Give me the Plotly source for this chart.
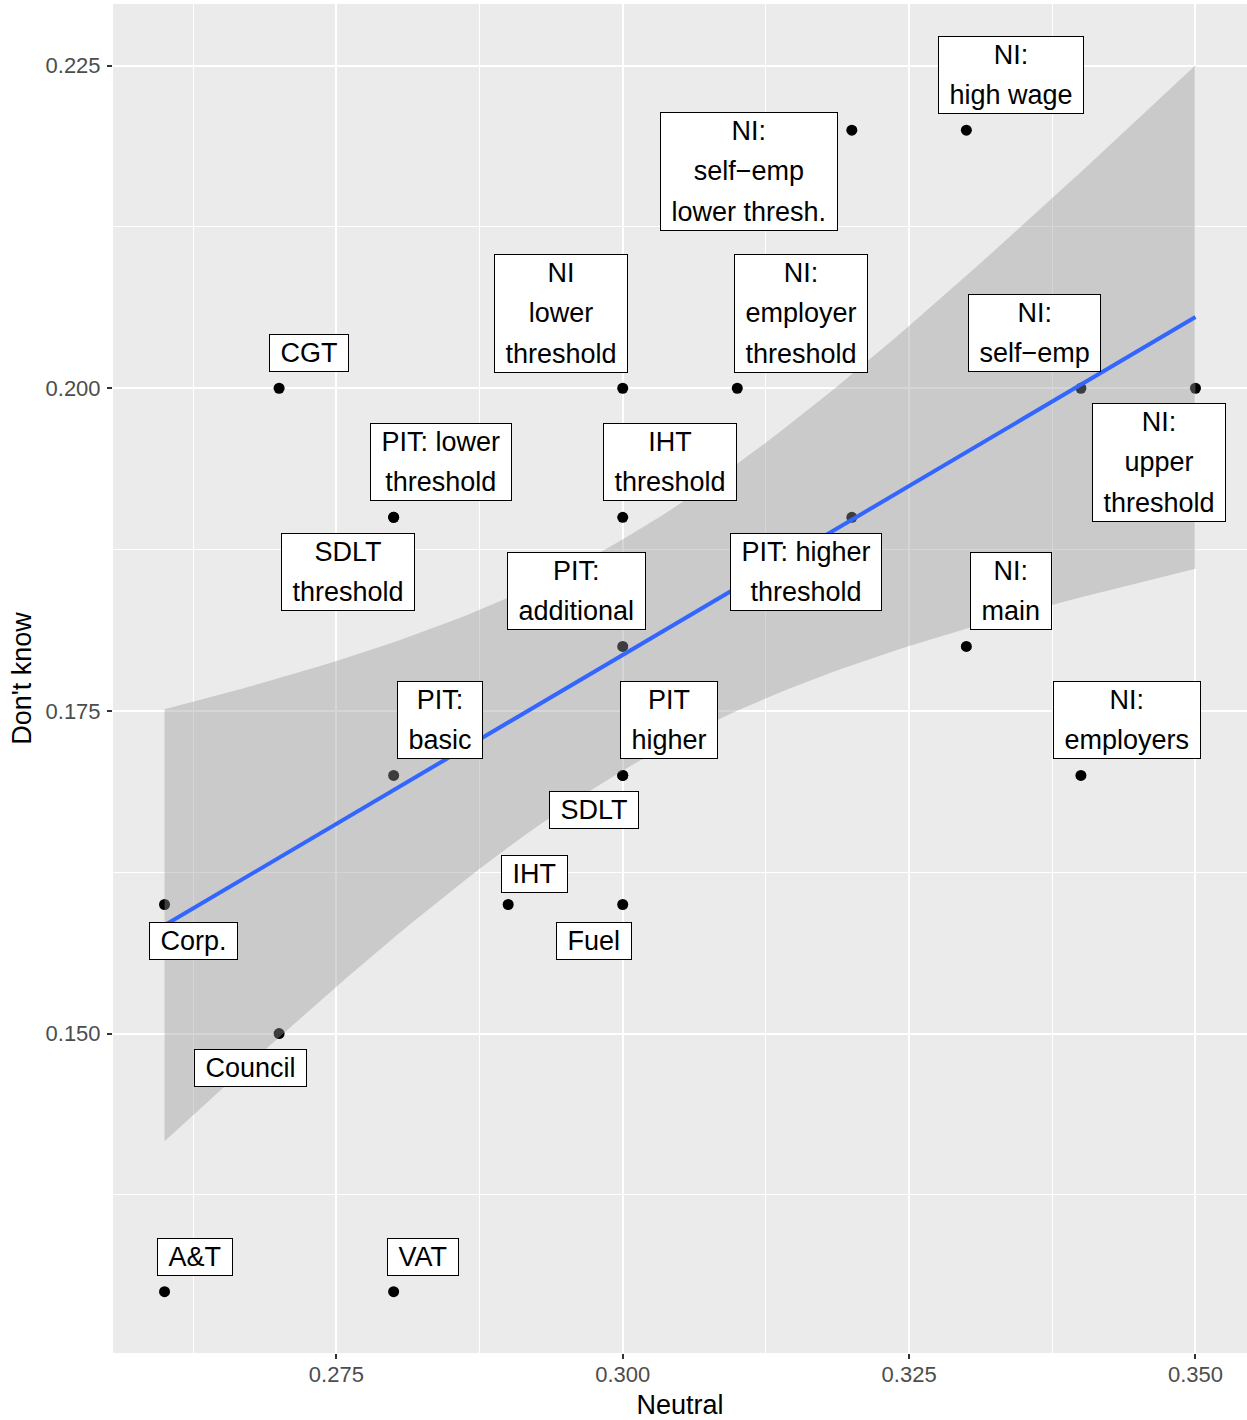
import numpy as np
import plotly.graph_objects as go

# Tax items: share answering "Neutral" vs share answering "Don't know"
labels = [
    "A&T", "VAT", "Corp.", "Council", "CGT",
    "PIT: lower\nthreshold", "SDLT\nthreshold", "PIT:\nbasic", "IHT", "Fuel",
    "PIT\nhigher", "SDLT", "PIT:\nadditional", "IHT\nthreshold", "NI\nlower\nthreshold",
    "NI:\nemployer\nthreshold", "NI:\nself\u2212emp\nlower thresh.", "PIT: higher\nthreshold",
    "NI:\nhigh wage", "NI:\nmain", "NI:\nself\u2212emp", "NI:\nupper\nthreshold", "NI:\nemployers",
]
neutral = [
    0.26, 0.28, 0.26, 0.27, 0.27,
    0.28, 0.28, 0.28, 0.29, 0.30,
    0.30, 0.30, 0.30, 0.30, 0.30,
    0.31, 0.32, 0.32,
    0.33, 0.33, 0.34, 0.35, 0.34,
]
dont_know = [
    0.13, 0.13, 0.16, 0.15, 0.20,
    0.19, 0.19, 0.17, 0.16, 0.16,
    0.17, 0.17, 0.18, 0.19, 0.20,
    0.20, 0.22, 0.19,
    0.22, 0.18, 0.20, 0.20, 0.17,
]
x_ticks = [0.275, 0.300, 0.325, 0.350]
x_tick_text = ["0.275", "0.300", "0.325", "0.350"]
y_ticks = [0.150, 0.175, 0.200, 0.225]
y_tick_text = ["0.150", "0.175", "0.200", "0.225"]

# Label box placement relative to its point, in screen pixels (right, up)
label_dx = [30, 29, 29, -29, 30, 47, -46, 46, 26, -29, 46, -29, -46, 47, -62,
            64, -103, -46, 45, 45, -46, -36, 46]
label_dy = [35, 35, -36, -34, 35, 55, -55, 55, 31, -36, 55, -35, 55, 55, 75,
            75, -41, -55, 55, 55, 55, -74, 55]

FONT = "Liberation Sans, Arial, Helvetica, sans-serif"

# Linear fit with 95% confidence band (as in a lm smoother)
x = np.asarray(neutral)
y = np.asarray(dont_know)
n = len(x)
slope, intercept = np.polyfit(x, y, 1)
resid = y - (intercept + slope * x)
s = np.sqrt(np.sum(resid ** 2) / (n - 2))
sxx = np.sum((x - x.mean()) ** 2)
T_CRIT = 2.0796  # Student t, 97.5% quantile, 21 degrees of freedom
xs = np.linspace(x.min(), x.max(), 80)
fit = intercept + slope * xs
half = T_CRIT * s * np.sqrt(1.0 / n + (xs - x.mean()) ** 2 / sxx)
lo, hi = fit - half, fit + half

# Axis ranges padded by 5% on each side
def padded(a, b):
    d = (b - a) * 0.05
    return [a - d, b + d]

x_range = padded(x.min(), x.max())
y_range = padded(min(y.min(), lo.min()), max(y.max(), hi.max()))

fig = go.Figure()

fig.add_trace(go.Scatter(
    x=neutral, y=dont_know, mode="markers",
    marker=dict(color="black", size=11, line=dict(width=0)),
    hoverinfo="skip", showlegend=False,
))
fig.add_trace(go.Scatter(
    x=np.concatenate([xs, xs[::-1]]), y=np.concatenate([hi, lo[::-1]]),
    fill="toself", fillcolor="rgba(153,153,153,0.4)",
    line=dict(width=0), mode="lines", hoverinfo="skip", showlegend=False,
))
fig.add_trace(go.Scatter(
    x=xs, y=fit, mode="lines", line=dict(color="#3366FF", width=4),
    hoverinfo="skip", showlegend=False,
))

NBSP = "\u00a0"
for lab, xv, yv, dx, dy in zip(labels, neutral, dont_know, label_dx, label_dy):
    lines = lab.split("\n")
    text = "<br>".join(
        f'<span style="font-size:27px">{NBSP}{ln}{NBSP}</span>' for ln in lines
    )
    fig.add_annotation(
        x=xv, y=yv, xref="x", yref="y", text=text, showarrow=False,
        xshift=dx, yshift=dy, xanchor="center", yanchor="middle",
        font=dict(family=FONT, size=31, color="black"),
        bgcolor="white", bordercolor="black", borderwidth=1, borderpad=3,
        align="center",
    )

axis_common = dict(
    showgrid=True, gridcolor="white", gridwidth=2,
    zeroline=False, showline=False,
    ticks="outside", ticklen=5, tickwidth=2, tickcolor="#333333",
    tickfont=dict(family=FONT, size=22, color="#4D4D4D"),
)

fig.update_layout(
    width=1247, height=1420,
    margin=dict(l=113, r=0, t=4, b=67),
    paper_bgcolor="white", plot_bgcolor="#EBEBEB",
    font=dict(family=FONT),
    xaxis=dict(
        range=x_range, tickvals=x_ticks, ticktext=x_tick_text,
        title=dict(text="Neutral", font=dict(family=FONT, size=27, color="black"), standoff=8),
        minor=dict(tickvals=[0.2625, 0.2875, 0.3125, 0.3375], showgrid=True,
                   gridcolor="white", gridwidth=1),
        ticklabelstandoff=-3,
        **axis_common,
    ),
    yaxis=dict(
        range=y_range, tickvals=y_ticks, ticktext=y_tick_text,
        title=dict(text="Don't know", font=dict(family=FONT, size=27, color="black"), standoff=6),
        minor=dict(tickvals=[0.1375, 0.1625, 0.1875, 0.2125], showgrid=True,
                   gridcolor="white", gridwidth=1),
        ticklabelstandoff=2,
        **axis_common,
    ),
)

fig.write_html("out.html")
